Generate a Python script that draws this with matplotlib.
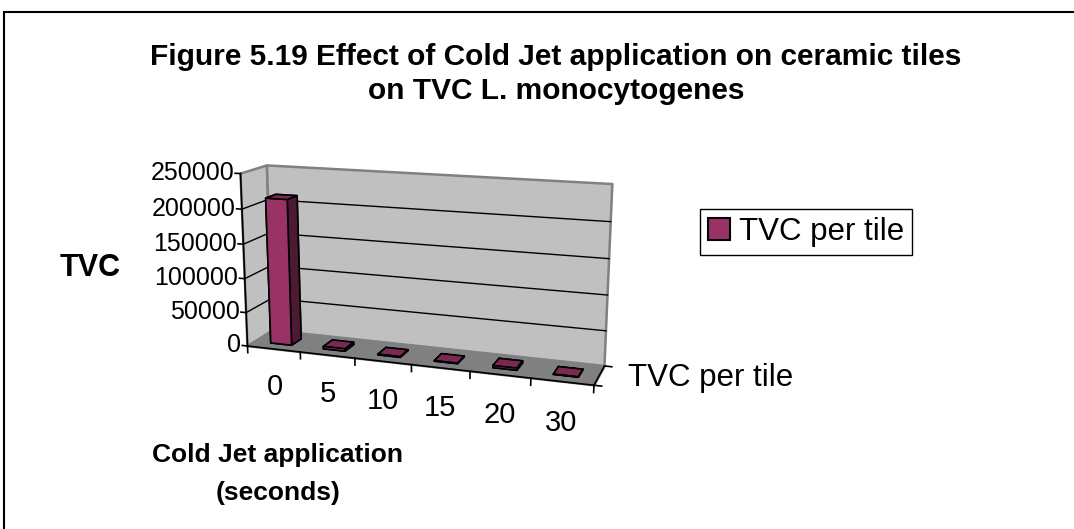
import numpy as np
import matplotlib
matplotlib.use("Agg")
import matplotlib.pyplot as plt
from matplotlib.patches import Rectangle, Patch
from mpl_toolkits.mplot3d.art3d import Poly3DCollection

plt.rcParams['font.family'] = ['Liberation Sans', 'DejaVu Sans']

# data
categories = ['0', '5', '10', '15', '20', '30']
tvc_per_tile = [213000, 3500, 1000, 700, 3000, 400]
series_name = 'TVC per tile'
y_ticks = [0, 50000, 100000, 150000, 200000, 250000]

BAR = '#993366'
BAR_SIDE = '#4d1a33'
BAR_TOP = '#7a2952'
WALL = '#c0c0c0'
FLOOR = '#808080'
EDGE = '#808080'

W, H = 1074, 529
fig = plt.figure(figsize=(W / 100, H / 100), dpi=100)

# square 3d axes, box centre lands at about (427, 269) px
S = 400
cx, cy = 421, H - 269
frac = 0.095 / 0.185
ax = fig.add_axes([(cx - frac * S) / W, (cy - frac * S) / H, S / W, S / H],
                  projection='3d')

n = len(categories)
x0, x1 = -0.5, n - 0.5
depth = 1.0
ymax = y_ticks[-1]
ax.set_xlim(x0, x1)
ax.set_ylim(0, depth)
ax.set_zlim(0, ymax)
ax.set_box_aspect((2.0, 0.32, 1))
ax.view_init(elev=14, azim=-71)
ax.set_proj_type('persp', focal_length=0.5)
ax.set_axis_off()
ax.computed_zorder = False


def to2d(x, y, z):
    # project a data point to the 2d coords of the 3d axes
    p = ax.get_proj() @ np.array([x, y, z, 1.0])
    return p[0] / p[3], p[1] / p[3]


# walls and floor
floor = [(x0, 0, 0), (x1, 0, 0), (x1, depth, 0), (x0, depth, 0)]
left_wall = [(x0, 0, 0), (x0, depth, 0), (x0, depth, ymax), (x0, 0, ymax)]
back_wall = [(x0, depth, 0), (x1, depth, 0), (x1, depth, ymax), (x0, depth, ymax)]
fl = Poly3DCollection([floor], facecolors=FLOOR, edgecolors=EDGE, linewidths=1.2)
fl.set_zorder(1)
ax.add_collection3d(fl)
walls = Poly3DCollection([left_wall, back_wall], facecolors=WALL,
                         edgecolors=EDGE, linewidths=1.8)
walls.set_zorder(1)
ax.add_collection3d(walls)

# gridlines on the walls
for v in y_ticks[1:-1]:
    ax.plot([x0, x0, x1], [0, depth, depth], [v, v, v], color='black',
            lw=1.0, zorder=2)

# value axis
ax.plot([x0, x0], [0, 0], [0, ymax], color='black', lw=1.2, zorder=4)
for v in y_ticks:
    ax.plot([x0 - 0.1, x0], [0, 0], [v, v], color='black', lw=1.2, zorder=4)
    tx, ty = to2d(x0 - 0.12, 0, v)
    ax.text2D(tx, ty, str(v), transform=ax.transData, ha='right',
              va='center', fontsize=18)

# category axis
ax.plot([x0, x1], [0, 0], [0, 0], color='black', lw=1.2, zorder=4)
for k in range(n + 1):
    ax.plot([x0 + k, x0 + k], [0, 0], [0, -0.04 * ymax], color='black',
            lw=1.2, zorder=4)
for i, c in enumerate(categories):
    tx, ty = to2d(i, 0, -0.23 * ymax)
    ax.text2D(tx, ty, c, transform=ax.transData, ha='center', va='center',
              fontsize=21)

# series axis on the right of the floor
ax.plot([x1, x1], [0, depth], [0, 0], color='black', lw=1.2, zorder=4)
for d in (0, depth):
    ax.plot([x1, x1 + 0.12], [d, d], [0, 0], color='black', lw=1.2, zorder=4)
tx, ty = to2d(x1 + 0.45, depth / 2, 0)
ax.text2D(tx, ty, series_name, transform=ax.transData, ha='left',
          va='center', fontsize=22.5)

# bars
bw, bd = 0.4, 0.4
xs = [i - bw / 2 for i in range(n)]
face_cols = [BAR_SIDE, BAR_TOP, BAR, BAR, BAR, BAR_SIDE] * n
bars = ax.bar3d(xs, [(depth - bd) / 2] * n, [0] * n, bw, bd, tvc_per_tile,
                color=face_cols, edgecolor='black', linewidth=1.2, shade=False)
bars.set_zorder(3)

# texts outside the plot
fig.text(556 / W, 1 - 57 / H, 'Figure 5.19 Effect of Cold Jet application on ceramic tiles',
         ha='center', va='center', fontsize=21.5, fontweight='bold')
fig.text(556 / W, 1 - 91 / H, 'on TVC L. monocytogenes',
         ha='center', va='center', fontsize=21.5, fontweight='bold')
fig.text(90 / W, 1 - 268 / H, 'TVC', ha='center', va='center',
         fontsize=22, fontweight='bold')
fig.text(278 / W, 1 - 455 / H, 'Cold Jet application', ha='center',
         va='center', fontsize=19, fontweight='bold')
fig.text(278 / W, 1 - 493 / H, '(seconds)', ha='center', va='center',
         fontsize=19, fontweight='bold')

leg = fig.legend(handles=[Patch(facecolor=BAR, edgecolor='black', lw=1.5,
                                label=series_name)],
                 loc='upper left', bbox_to_anchor=(700 / W, 1 - 209 / H),
                 frameon=True, fancybox=False, edgecolor='black', fontsize=22.5,
                 handlelength=0.7, handleheight=0.7, handletextpad=0.3,
                 borderpad=0.25, borderaxespad=0)
leg.get_frame().set_linewidth(1.0)
leg.get_frame().set_alpha(1)

# chart area border
fig.patches.append(Rectangle((4 / W, -0.05), 1.2, (H - 12) / H + 0.05,
                             transform=fig.transFigure, fill=False,
                             edgecolor='black', lw=1.5))

fig.savefig('out.png', dpi=100)
